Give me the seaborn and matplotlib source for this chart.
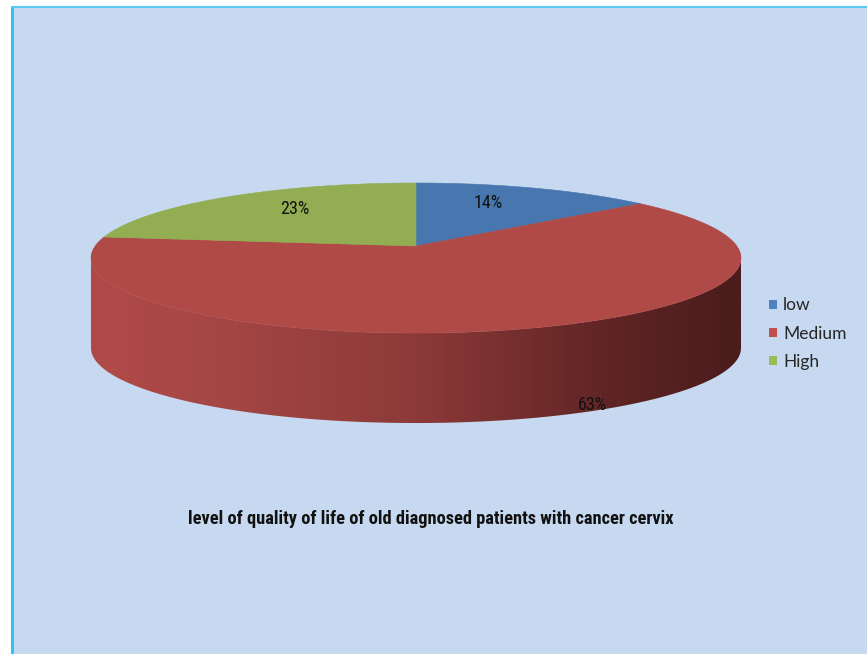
import os
import numpy as np
import matplotlib
matplotlib.use("Agg")
import matplotlib.pyplot as plt
import seaborn as sns
from matplotlib import font_manager as fm
from matplotlib.patches import Polygon, Rectangle, Patch
from matplotlib.colors import to_rgb

# ---- data -------------------------------------------------------------
categories = ["low", "Medium", "High"]
shares = [14, 63, 23]
pct_labels = ["14%", "63%", "23%"]
title_text = "level of quality of life of old diagnosed patients with cancer cervix"

# ---- style ------------------------------------------------------------
sns.set_theme(style="white")
top_colors = sns.color_palette(["#4777AE", "#B04A47", "#92AD52"])
legend_colors = sns.color_palette(["#4F81BD", "#C0504D", "#9BBB59"])
side_ramp = [  # (fraction across the drum, colour) for each slice's outer wall
    [(0.0, "#3F6A9C"), (1.0, "#1E3550")],
    [(0.0, "#B04A48"), (0.15, "#A84846"), (0.5, "#8C3A39"), (0.8, "#602424"), (1.0, "#4A1C1C")],
    [(0.0, "#83A04A"), (1.0, "#435526")],
]


def _is_bold(f):
    w = f.weight
    if isinstance(w, str):
        w = fm.weight_dict.get(w, 400)
    return w >= 600


def _is_narrow(f):
    s = (f.name + " " + os.path.basename(f.fname)).lower()
    return ("narrow" in s or "condensed" in s
            or f.stretch in ("condensed", "semi-condensed", "extra-condensed", "ultra-condensed"))


def narrow_face(bold):
    """Pick a narrow sans face if one is installed, else a plain sans one."""
    cands = [f for f in fm.fontManager.ttflist
             if _is_narrow(f) and _is_bold(f) == bold and f.style == "normal"]
    for pref in ["liberation sans narrow", "arial narrow", "roboto condensed",
                 "open sans condensed", "noto sans", "dejavu sans"]:
        for f in cands:
            if pref in f.name.lower():
                return fm.FontProperties(fname=f.fname)
    if cands:
        return fm.FontProperties(fname=cands[0].fname)
    return fm.FontProperties(family="Liberation Sans", weight="bold" if bold else "normal")


W, H = 867, 654
fig = plt.figure(figsize=(W / 100, H / 100), dpi=100, facecolor="white")
ax = fig.add_axes([0, 0, 1, 1])
ax.set_xlim(0, W)
ax.set_ylim(H, 0)
ax.axis("off")

# chart panel with its bright edge on the left and top
ax.add_patch(Rectangle((11, 7), W - 11, H - 7, facecolor="#C6D9F0", edgecolor="none", zorder=0))
ax.plot([11.5, 11.5], [6, H], color="#2EC2F5", lw=2.2, solid_capstyle="butt", zorder=1)
ax.plot([11, W], [6.8, 6.8], color="#5CC9F0", lw=1.5, solid_capstyle="butt", zorder=1)

# ---- perspective pie geometry ----------------------------------------
CX, CY = 416.0, 246.0          # apex of the slices
SX, SY, K = 320.8, 73.1, 0.16  # horizontal / vertical radius and perspective strength
DEPTH = 90.0


def project(r, theta_deg, drop=0.0):
    th = np.radians(theta_deg)
    u = r * np.cos(th)
    v = r * np.sin(th)
    d = 1 + K * v
    return CX + SX * u / d, CY - SY * v / d + drop


total = float(sum(shares))
bounds = 90 - 360 * np.concatenate([[0], np.cumsum(shares)]) / total
starts, ends = bounds[:-1], bounds[1:]

# visible outer wall lies between the left and right silhouette points
vis_lo = 180 + np.degrees(np.arcsin(K))
vis_hi = 360 - np.degrees(np.arcsin(K))
x_left = project(1, vis_lo)[0]
x_right = project(1, vis_hi)[0]


def ramp_image(stops, n=400):
    pos = np.array([p for p, _ in stops])
    cols = np.array([to_rgb(c) for _, c in stops])
    xs = np.linspace(0, 1, n)
    img = np.stack([np.interp(xs, pos, cols[:, k]) for k in range(3)], axis=-1)
    return img[np.newaxis, :, :]


# outer walls
for i in range(len(shares)):
    for shift in (-360, 0, 360):
        lo = max(ends[i], vis_lo + shift)
        hi = min(starts[i], vis_hi + shift)
        if lo >= hi:
            continue
        th = np.linspace(lo, hi, 200)
        tx, ty = project(1, th)
        bx, by = project(1, th[::-1], DEPTH)
        poly = Polygon(np.column_stack([np.r_[tx, bx], np.r_[ty, by]]),
                       closed=True, facecolor="none", edgecolor="none")
        ax.add_patch(poly)
        im = ax.imshow(ramp_image(side_ramp[i]),
                       extent=(x_left, x_right, CY + DEPTH + 120, CY - 120),
                       aspect="auto", interpolation="bilinear", zorder=2)
        im.set_clip_path(poly)

# top faces
for i in range(len(shares)):
    th = np.linspace(starts[i], ends[i], 200)
    px, py = project(1, th)
    pts = np.column_stack([np.r_[CX, px], np.r_[CY, py]])
    ax.add_patch(Polygon(pts, closed=True, facecolor=top_colors[i],
                         edgecolor=top_colors[i], lw=0.4, zorder=3))

# percentage labels
label_face = narrow_face(bold=False)
label_face.set_size(13)
mids = (starts + ends) / 2
for i in range(len(shares)):
    if i == 1:
        # the large slice is labelled on its wall, near the lower rim
        x, y = project(1, mids[i] + 12, DEPTH * 0.93)
    else:
        x, y = project(0.6, mids[i])
        x -= 3
        y -= 6
    ax.text(x, y, pct_labels[i], ha="center", va="center",
            fontproperties=label_face, color="#111111", zorder=5)

# title, sized to span its line
title_face = narrow_face(bold=True)
title_face.set_size(14)
t = ax.text(431, 519, title_text, ha="center", va="center",
            fontproperties=title_face, color="#111111", zorder=5)
renderer = fig.canvas.get_renderer()
w_now = t.get_window_extent(renderer).width
title_face.set_size(14 * 488.0 / w_now)
t.set_fontproperties(title_face)

# legend
handles = [Patch(facecolor=legend_colors[i], edgecolor="none", label=categories[i])
           for i in range(len(categories))]
ax.legend(handles=handles, loc="upper left", bbox_to_anchor=(769, 297.5),
          bbox_transform=ax.transData, frameon=False,
          prop={"family": ["Lato", "DejaVu Sans"], "size": 12.5},
          handlelength=0.46, handleheight=0.46, handletextpad=0.36,
          labelspacing=0.70, borderpad=0, borderaxespad=0, labelcolor="#262626")

fig.savefig("out.png", dpi=100, facecolor="white")
